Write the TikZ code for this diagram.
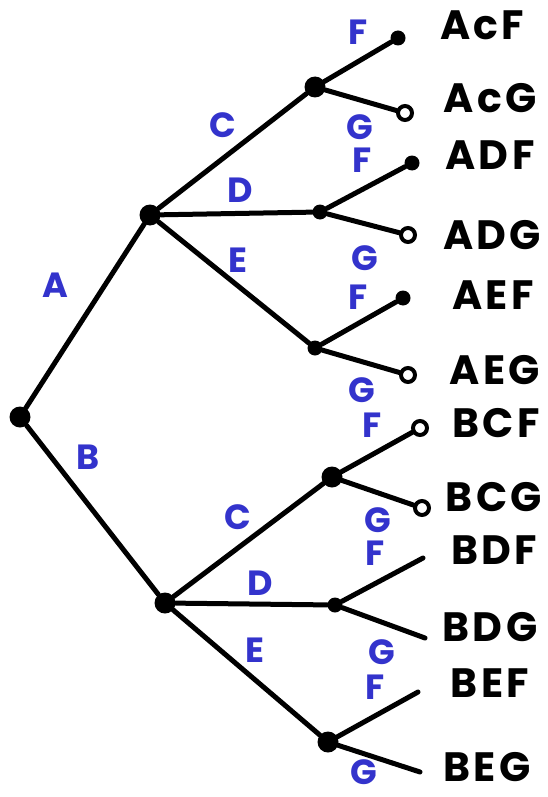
\documentclass[tikz,border=0pt]{standalone}
\usepackage{fontspec}
\setmainfont{Poppins}
\newfontfamily\hand[LetterSpace=8]{Poppins}
\definecolor{lblue}{HTML}{3333CC}
\begin{document}
\begin{tikzpicture}[x=1pt,y=-1pt,
  edge/.style={line width=5pt, line cap=round},
  bigdot/.style={circle, fill=black, inner sep=0pt, minimum size=21pt},
  middot/.style={circle, fill=black, inner sep=0pt, minimum size=15pt},
  ring/.style={circle, draw=black, line width=4pt, fill=white, inner sep=0pt, minimum size=14pt},
  leaflabel/.style={font=\hand\bfseries\fontsize{41}{43}\selectfont, text=black, inner sep=0pt},
  blabel/.style={font=\bfseries\fontsize{35}{37}\selectfont, text=lblue, inner sep=0pt}]
\useasboundingbox (0,0) rectangle (548,797);
% inner nodes
\node[bigdot] (root) at (20,417) {};
\node[bigdot] (a) at (150,215) {};
\node[bigdot] (b) at (165,603) {};
\node[bigdot] (ac) at (315,87) {};
\node[middot] (ad) at (320,212) {};
\node[middot] (ae) at (315,348) {};
\node[bigdot] (bc) at (332,477) {};
\node[middot] (bd) at (335,605) {};
\node[bigdot] (be) at (328,742) {};
% leaves
\node[middot] (acf) at (398,38) {};
\node[ring] (acg) at (405,113) {};
\node[middot] (adf) at (412,163) {};
\node[ring] (adg) at (408,235) {};
\node[middot] (aef) at (403,298) {};
\node[ring] (aeg) at (408,375) {};
\node[ring] (bcf) at (420,428) {};
\node[ring] (bcg) at (422,508) {};
\coordinate (bdf) at (423,558);
\coordinate (bdg) at (425,638);
\coordinate (bef) at (418,692);
\coordinate (beg) at (420,772);
% edges
\draw[edge] (root) -- (a);
\draw[edge] (root) -- (b);
\draw[edge] (a) -- (ac);
\draw[edge] (a) -- (ad);
\draw[edge] (a) -- (ae);
\draw[edge] (b) -- (bc);
\draw[edge] (b) -- (bd);
\draw[edge] (b) -- (be);
\draw[edge] (ac) -- (acf);
\draw[edge] (ac) -- (acg);
\draw[edge] (ad) -- (adf);
\draw[edge] (ad) -- (adg);
\draw[edge] (ae) -- (aef);
\draw[edge] (ae) -- (aeg);
\draw[edge] (bc) -- (bcf);
\draw[edge] (bc) -- (bcg);
\draw[edge] (bd) -- (bdf);
\draw[edge] (bd) -- (bdg);
\draw[edge] (be) -- (bef);
\draw[edge] (be) -- (beg);
% leaf texts
\node[leaflabel] (tacf) at (482,25) {AcF};
\node[leaflabel] (tacg) at (490,98) {AcG};
\node[leaflabel] (tadf) at (490,155) {ADF};
\node[leaflabel] (tadg) at (492,235) {ADG};
\node[leaflabel] (taef) at (493,295) {AEF};
\node[leaflabel] (taeg) at (495,370) {AEG};
\node[leaflabel] (tbcf) at (496,423) {BCF};
\node[leaflabel] (tbcg) at (494,497) {BCG};
\node[leaflabel] (tbdf) at (494,550) {BDF};
\node[leaflabel] (tbdg) at (490,627) {BDG};
\node[leaflabel] (tbef) at (490,683) {BEF};
\node[leaflabel] (tbeg) at (487,767) {BEG};
% branch labels
\node[blabel] (lA) at (55,285) {A};
\node[blabel] (lB) at (88,457) {B};
\node[blabel] (lC1) at (223,125) {C};
\node[blabel] (lD1) at (240,190) {D};
\node[blabel] (lE1) at (238,260) {E};
\node[blabel] (lC2) at (238,517) {C};
\node[blabel] (lD2) at (260,583) {D};
\node[blabel] (lE2) at (255,650) {E};
\node[blabel] (f1) at (358,32) {F};
\node[blabel] (g1) at (360,127) {G};
\node[blabel] (f2) at (362,160) {F};
\node[blabel] (g2) at (365,258) {G};
\node[blabel] (f3) at (358,297) {F};
\node[blabel] (g3) at (362,390) {G};
\node[blabel] (f4) at (372,425) {F};
\node[blabel] (g4) at (378,520) {G};
\node[blabel] (f5) at (375,553) {F};
\node[blabel] (g5) at (382,652) {G};
\node[blabel] (f6) at (375,687) {F};
\node[blabel] (g6) at (364,772) {G};
\end{tikzpicture}
\end{document}
